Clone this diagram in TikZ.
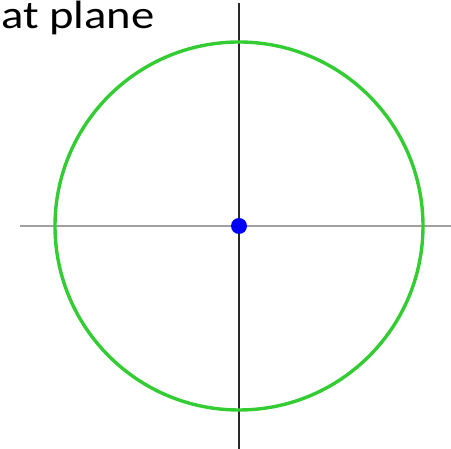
\documentclass[tikz,border=0pt]{standalone}
\usepackage{fontspec}
\setmainfont{Carlito}
\begin{document}
\begin{tikzpicture}[x=1pt,y=1pt,
  axisgray/.style={draw={rgb,255:red,160;green,160;blue,160}, line width=2pt},
  axisdark/.style={draw={rgb,255:red,40;green,40;blue,40}, line width=1.1pt},
  ring/.style={draw={rgb,255:red,51;green,204;blue,51}, line width=3.4pt},
  dot/.style={circle, fill={rgb,255:red,0;green,0;blue,255}, inner sep=0pt, minimum size=16pt}]
\useasboundingbox (0,0) rectangle (451,449);
\coordinate (hl) at (20,223);
\coordinate (hr) at (451,223);
\coordinate (vt) at (239,446);
\coordinate (vb) at (239,0);
\draw[axisgray] (hl) -- (hr);
\draw[axisdark] (vt) -- (vb);
\draw[ring] (239,223) circle (184);
\node[dot] (o) at (239,223) {};
\node[anchor=base west, inner sep=0pt, xscale=1.18, font=\fontsize{39.5}{42}\selectfont] (t) at (1,420) {at plane};
\end{tikzpicture}
\end{document}
